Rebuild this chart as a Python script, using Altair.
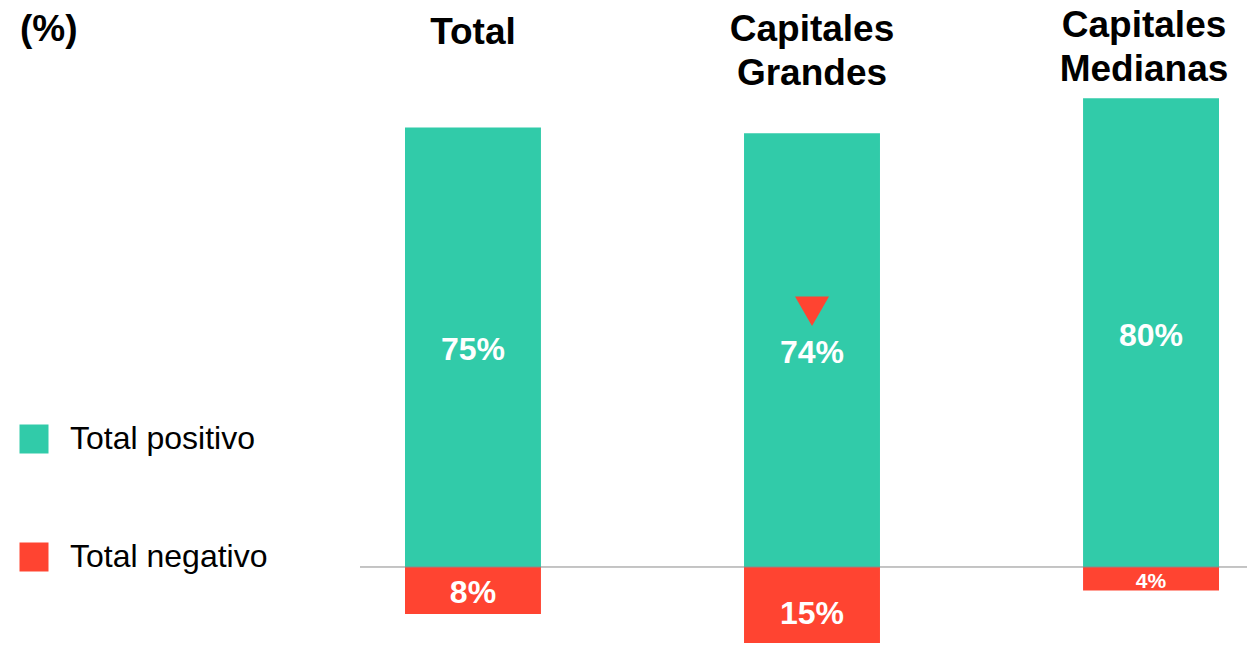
import altair as alt
import pandas as pd

categories = ["Total", "Capitales Grandes", "Capitales Medianas"]
positivo = [75, 74, 80]
negativo = [8, 15, 4]
series = ["Total positivo", "Total negativo"]
colors = ["#31CBA9", "#FF4431"]
title_text = ["Total", "Capitales\nGrandes", "Capitales\nMedianas"]

rows = []
for c, p, n in zip(categories, positivo, negativo):
    rows.append({"cat": c, "serie": series[0], "value": p, "label": f"{p}%"})
    rows.append({"cat": c, "serie": series[1], "value": -n, "label": f"{n}%"})
df = pd.DataFrame(rows)
titles = pd.DataFrame({"cat": categories, "title": title_text})

W, H = 1239, 635
ydom = [-12.97, 95.39]

xscale = alt.Scale(domain=categories, range=[397, 1211], paddingInner=0.599, paddingOuter=0)
yscale = alt.Scale(domain=ydom, nice=False, zero=False)
FONT = "Liberation Sans"

base = alt.Chart(df)

bars = base.mark_bar(clip=True).encode(
    x=alt.X("cat:N", scale=xscale, axis=None),
    y=alt.Y("value:Q", scale=yscale, axis=None),
    y2=alt.datum(0),
    color=alt.Color("serie:N", scale=alt.Scale(domain=series, range=colors),
                    legend=alt.Legend(title=None, orient="none", legendX=10, legendY=415,
                                      symbolType="square", symbolSize=841, symbolStrokeWidth=0,
                                      symbolOpacity=1, labelFontSize=32, labelFont=FONT,
                                      labelColor="#000", labelOffset=20, rowPadding=86,
                                      labelLimit=0, padding=0, direction="vertical")),
)

labels = base.transform_calculate(
    mid="datum.value / 2",
    fs="abs(datum.value) < 6 ? 21 : 32",
).mark_text(color="white", fontWeight="bold", font=FONT, baseline="middle", dy=3, clip=True).encode(
    x=alt.X("cat:N", scale=xscale),
    y=alt.Y("mid:Q", scale=yscale),
    text="label:N",
    size=alt.Size("fs:Q", scale=None, legend=None),
)

tri = base.transform_filter(
    "datum.cat === 'Capitales Grandes' && datum.value > 0"
).transform_calculate(mid="datum.value / 2").mark_point(
    shape="triangle-down", filled=True, size=1156, color=colors[1], opacity=1, yOffset=-39
).encode(
    x=alt.X("cat:N", scale=xscale),
    y=alt.Y("mid:Q", scale=yscale),
)

# title placement per category: (first-line baseline in px, horizontal nudge)
title_pos = {"Total": (36, 0), "Capitales Grandes": (33, 0), "Capitales Medianas": (29, -7)}
title_layers = []
for cat, (ty, tdx) in title_pos.items():
    title_layers.append(
        alt.Chart(titles).transform_filter(alt.datum.cat == cat).mark_text(
            fontWeight="bold", font=FONT, fontSize=37, lineBreak="\n", lineHeight=44,
            baseline="alphabetic", color="#000", dx=tdx
        ).encode(
            x=alt.X("cat:N", scale=xscale),
            y=alt.value(ty),
            text="title:N",
        )
    )

pct = alt.Chart(pd.DataFrame({"t": ["(%)"]})).mark_text(
    fontWeight="bold", font=FONT, fontSize=37, align="left", baseline="middle", color="#000"
).encode(x=alt.value(12), y=alt.value(22), text="t:N")

rule = alt.Chart(pd.DataFrame({"z": [0]})).mark_rule(color="#8a8a8a", strokeWidth=1).encode(
    y=alt.Y("z:Q", scale=yscale), x=alt.value(352), x2=alt.value(W)
)

chart = alt.layer(bars, rule, labels, tri, *title_layers, pct).properties(
    width=W, height=H, padding=0, autosize=alt.AutoSizeParams(type="none")
).configure_view(stroke=None)

chart.save("out.html", embed_options={"renderer": "svg", "actions": False})
